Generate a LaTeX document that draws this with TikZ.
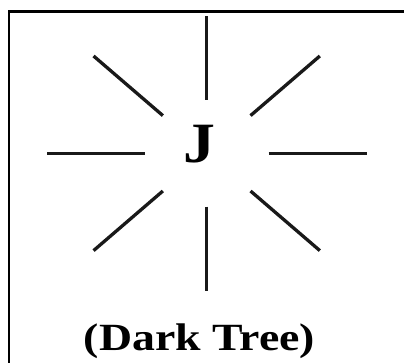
\documentclass[tikz,border=0pt]{standalone}
\usepackage{fontspec}
\setmainfont{Liberation Serif}
\usepackage{tikz}

\begin{document}
\begin{tikzpicture}[
    x=1pt, y=1pt,
    ray/.style={line width=3.3pt, black!90},
    edgeline/.style={line width=2.6pt, line cap=rect},
    letter/.style={font=\fontsize{57}{60}\selectfont\bfseries, inner sep=0pt, anchor=base, xscale=1.12},
    caption/.style={font=\fontsize{38.5}{40}\selectfont\bfseries, inner sep=0pt, anchor=base, xscale=1.19},
]
\useasboundingbox (0,0) rectangle (404,362);
% open frame: left and top edge only
\coordinate (fbot) at (9,-2);
\coordinate (fcorner) at (9,350.5);
\coordinate (fright) at (406,350.5);
\draw[edgeline] (fbot) -- (fcorner) -- (fright);
% centre of the rays and the letter
\coordinate (c) at (206.7,208.7);
\node[letter] (j) at (199.5,199.5) {J};
\begin{scope}[shift={(c)}, yscale=0.86]
\foreach \a in {0,45,...,315}
    \draw[ray] (\a:62) -- (\a:160);
\end{scope}
\node[caption] (name) at (199.5,12) {(Dark Tree)};
\end{tikzpicture}
\end{document}
